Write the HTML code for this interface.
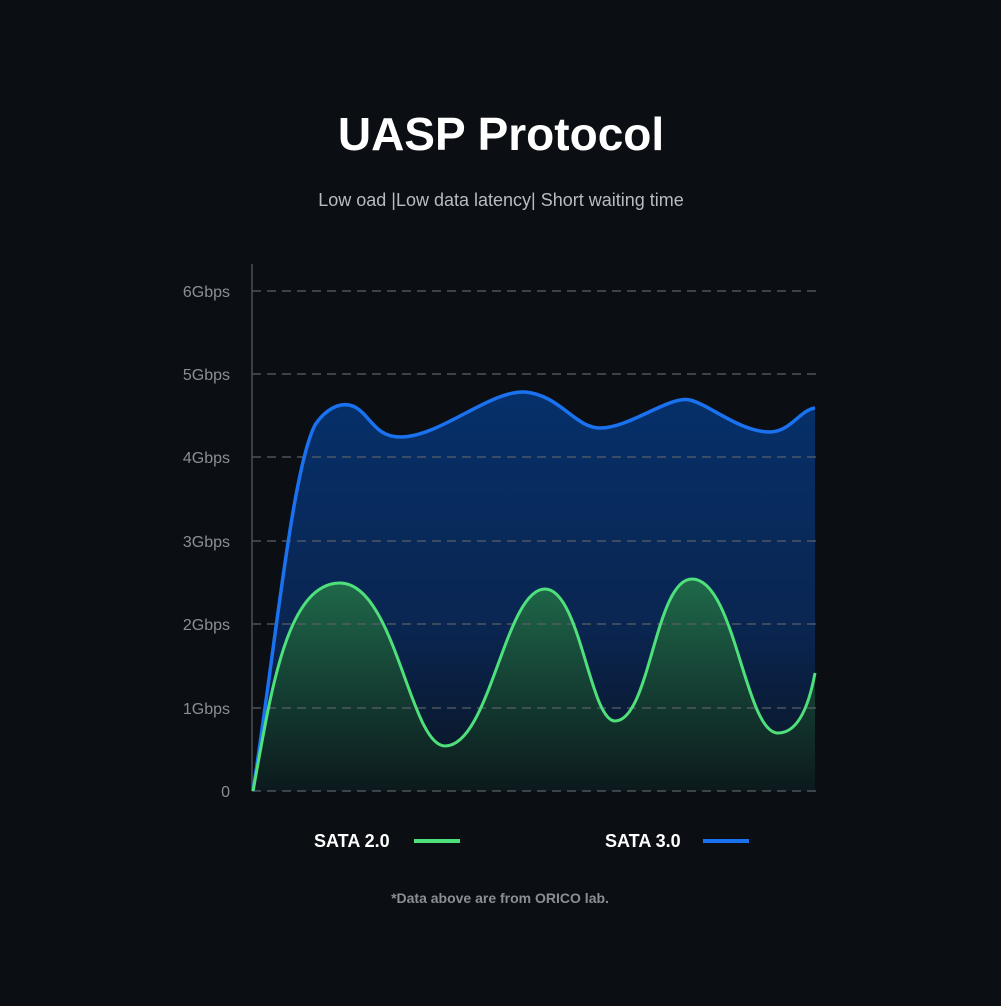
<!DOCTYPE html>
<html><head><style>
body{margin:0;background:#0b0f14;width:1001px;height:1001px;overflow:hidden;font-family:"Liberation Sans",sans-serif}
</style></head><body>
<svg width="1001" height="1001" viewBox="0 0 1001 1001" xmlns="http://www.w3.org/2000/svg">
<defs>
<linearGradient id="bg" x1="0" y1="0" x2="0" y2="1">
<stop offset="0" stop-color="#06306a"/><stop offset="0.6" stop-color="#0a2550"/><stop offset="1" stop-color="#0b1420"/>
</linearGradient>
<linearGradient id="gg" x1="0" y1="0" x2="0" y2="1">
<stop offset="0" stop-color="#1f6a4a"/><stop offset="1" stop-color="#0c1a1c" stop-opacity="0.9"/>
</linearGradient>
</defs>
<rect width="1001" height="1001" fill="#0b0f14"/>
<text x="501" y="150" text-anchor="middle" fill="#fff" font-size="46" font-weight="bold">UASP Protocol</text>
<text x="501" y="206" text-anchor="middle" fill="#b8bcc2" font-size="18">Low oad |Low data latency| Short waiting time</text>
<path d="M253,791 C275,650 292,470 315,425 C325,410 340,400 355,407 C370,415 375,437 400,437 C440,437 490,390 525,392 C560,395 575,428 600,428 C630,428 670,395 690,400 C710,405 740,432 770,432 C790,432 800,410 815,408 L815,791 Z" fill="url(#bg)"/>
<path d="M253,791 C270,700 285,583 340,583 C395,583 410,746 445,746 C490,746 505,589 545,589 C580,589 590,721 615,721 C650,721 655,579 692,579 C735,579 745,733 778,733 C800,733 810,700 815,673 L815,791 Z" fill="url(#gg)"/>
<g stroke="#5a6068" stroke-width="1.2" stroke-dasharray="9,6">
<line x1="252" y1="291" x2="816" y2="291"/><line x1="252" y1="374" x2="816" y2="374"/>
<line x1="252" y1="457" x2="816" y2="457"/><line x1="252" y1="541" x2="816" y2="541"/>
<line x1="252" y1="624" x2="816" y2="624"/><line x1="252" y1="708" x2="816" y2="708"/>
<line x1="252" y1="791" x2="816" y2="791"/>
</g>
<line x1="252" y1="264" x2="252" y2="791" stroke="#4a4f56" stroke-width="1.5"/>
<g fill="#8a8f96" font-size="16" text-anchor="end">
<text x="230" y="297">6Gbps</text><text x="230" y="380">5Gbps</text><text x="230" y="463">4Gbps</text>
<text x="230" y="547">3Gbps</text><text x="230" y="630">2Gbps</text><text x="230" y="714">1Gbps</text>
<text x="230" y="797">0</text>
</g>
<path d="M253,791 C275,650 292,470 315,425 C325,410 340,400 355,407 C370,415 375,437 400,437 C440,437 490,390 525,392 C560,395 575,428 600,428 C630,428 670,395 690,400 C710,405 740,432 770,432 C790,432 800,410 815,408" fill="none" stroke="#1a72f0" stroke-width="3.5"/>
<path d="M253,791 C270,700 285,583 340,583 C395,583 410,746 445,746 C490,746 505,589 545,589 C580,589 590,721 615,721 C650,721 655,579 692,579 C735,579 745,733 778,733 C800,733 810,700 815,673" fill="none" stroke="#4ee07a" stroke-width="3"/>
<text x="314" y="847" fill="#fff" font-size="18" font-weight="bold">SATA 2.0</text>
<rect x="414" y="839" width="46" height="4" fill="#4ee07a"/>
<text x="605" y="847" fill="#fff" font-size="18" font-weight="bold">SATA 3.0</text>
<rect x="703" y="839" width="46" height="4" fill="#1a72f0"/>
<text x="500" y="903" text-anchor="middle" fill="#8a8f96" font-size="14" font-weight="bold">*Data above are from ORICO lab.</text>
</svg>
</body></html>
